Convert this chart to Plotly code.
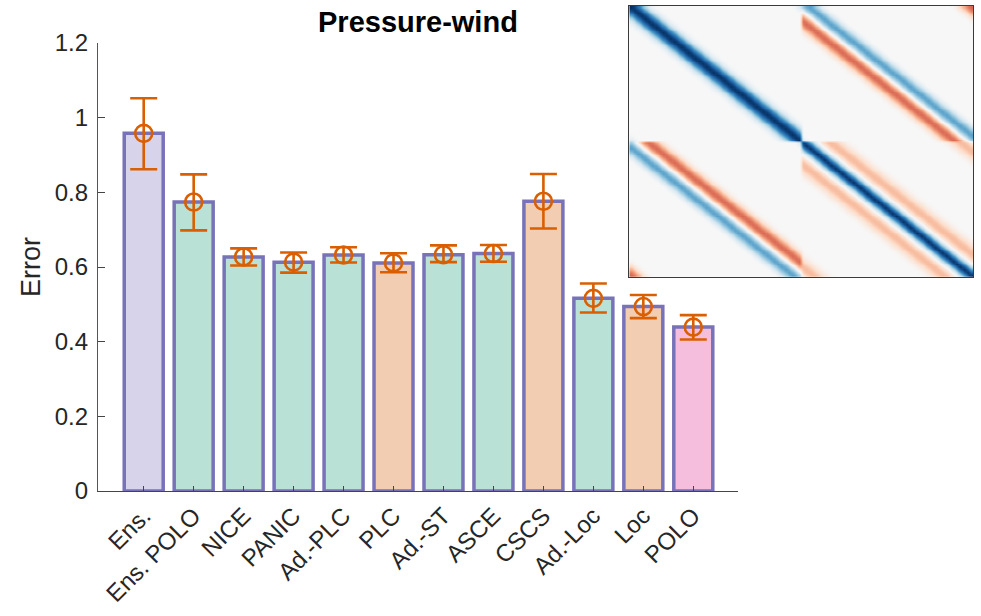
import numpy as np
import plotly.graph_objects as go

# ---------------- data ----------------
categories = ["Ens.", "Ens. POLO", "NICE", "PANIC", "Ad.-PLC", "PLC",
              "Ad.-ST", "ASCE", "CSCS", "Ad.-Loc", "Loc", "POLO"]
error_mean = [0.958, 0.774, 0.627, 0.613, 0.632, 0.611, 0.633, 0.636, 0.776, 0.516, 0.494, 0.439]
error_plus = [0.094, 0.074, 0.023, 0.026, 0.021, 0.026, 0.025, 0.023, 0.073, 0.040, 0.031, 0.032]
error_minus = [0.096, 0.076, 0.023, 0.028, 0.020, 0.025, 0.020, 0.022, 0.073, 0.038, 0.031, 0.033]
bar_groups = ["ens", "loc", "loc", "loc", "loc", "glob", "loc", "loc", "glob", "loc", "glob", "polo"]
group_colors = {"ens": "#d6d3ea", "loc": "#b9e1d6", "glob": "#f3cdb2", "polo": "#f5bedd"}
y_ticks = [0, 0.2, 0.4, 0.6, 0.8, 1.0, 1.2]
y_ticktext = ["0", "0.2", "0.4", "0.6", "0.8", "1", "1.2"]

# inset covariance: band profiles (value vs. index offset from the diagonal)
band_cells = 48
band_gap = 4
pp_profile = [1.0, 0.92, 0.75, 0.52, 0.30, 0.14, 0.05, 0.01]
ww_profile = [1.0, 0.85, 0.55, 0.25, 0.05, -0.10, -0.22, -0.30, -0.32, -0.28, -0.20, -0.12, -0.06, -0.02]
pw_offsets = list(range(-10, 8))
pw_profile = [-0.03, -0.10, -0.22, -0.38, -0.52, -0.58, -0.52, -0.36, -0.12,
              0.12, 0.35, 0.50, 0.55, 0.45, 0.30, 0.15, 0.05, 0.0]

# ---------------- build inset matrix ----------------
pw_map = dict(zip(pw_offsets, pw_profile))


def wrap(d, n, gap):
    if d > n // 2:
        d -= n + gap
    elif d < -(n // 2):
        d += n + gap
    return d


def sym(profile, d):
    d = abs(d)
    return profile[d] if d < len(profile) else 0.0


N = band_cells
M = np.zeros((2 * N, 2 * N))
for r in range(N):
    for c in range(N):
        d = wrap(c - r, N, band_gap)
        M[r, c] = sym(pp_profile, d)
        M[N + r, N + c] = sym(ww_profile, d)
        M[r, N + c] = pw_map.get(d, 0.0)
        M[N + r, c] = pw_map.get(-d, 0.0)

rdbu = ["#67001f", "#b2182b", "#d6604d", "#f4a582", "#fddbc7", "#f7f7f7",
        "#d1e5f0", "#92c5de", "#4393c3", "#2166ac", "#053061"]
colorscale = [[i / 10, c] for i, c in enumerate(rdbu)]

# ---------------- figure ----------------
W, H = 981, 616
ml, mr, mt, mb = 98, 8, 6, 125
pw_ = W - ml - mr
ph_ = H - mt - mb
x0_px, x1_px = 98, 738
ytop_px, ybot_px = 43, 491


def xd(px):
    return (px - ml) / pw_


def yd(py):
    return (H - mb - py) / ph_


xpos = list(range(len(categories)))
font_family = "Liberation Sans, Arial, Helvetica, sans-serif"
txt = "#262626"

fig = go.Figure()
fig.add_trace(go.Bar(
    x=xpos, y=error_mean, width=0.78,
    marker=dict(color=[group_colors[g] for g in bar_groups],
                line=dict(color="#7872b8", width=3.5)),
    hoverinfo="skip", showlegend=False,
))
fig.add_trace(go.Scatter(
    x=xpos, y=error_mean, mode="markers",
    marker=dict(symbol="circle-open", size=17, color="#d95f02",
                line=dict(width=2.6, color="#d95f02")),
    error_y=dict(type="data", symmetric=False, array=error_plus, arrayminus=error_minus,
                 color="#d95f02", thickness=2.6, width=13.5),
    hoverinfo="skip", showlegend=False, cliponaxis=False,
))
fig.add_trace(go.Heatmap(
    z=M, colorscale=colorscale, zmin=-1, zmax=1, showscale=False,
    zsmooth="best", xaxis="x2", yaxis="y2", hoverinfo="skip",
))

fig.update_layout(
    template="none",
    width=W, height=H,
    margin=dict(l=ml, r=mr, t=mt, b=mb, pad=0, autoexpand=False),
    paper_bgcolor="white", plot_bgcolor="white",
    font=dict(family=font_family, color=txt),
    bargap=0,
    xaxis=dict(
        domain=[0, xd(x1_px)], range=[-0.915, 11.895], automargin=False,
        tickmode="array", tickvals=xpos, ticktext=categories, tickangle=-45,
        tickfont=dict(size=24, color=txt),
        ticks="inside", ticklen=5, tickcolor="#444", tickwidth=1,
        showline=True, linecolor="#444", linewidth=1.3,
        showgrid=False, zeroline=False, fixedrange=True,
    ),
    yaxis=dict(
        domain=[0, yd(ytop_px)], range=[0, 1.2], automargin=False,
        tickmode="array", tickvals=y_ticks, ticktext=y_ticktext,
        tickfont=dict(size=24, color=txt),
        ticks="inside", ticklen=7, tickcolor="#444", tickwidth=1,
        showline=True, linecolor="#555", linewidth=1.2,
        showgrid=False, zeroline=False, fixedrange=True,
        ticklabelstandoff=4,
    ),
    xaxis2=dict(
        domain=[xd(629.3), 1.0], anchor="y2", automargin=False,
        range=[-0.5, 2 * N - 0.5], showticklabels=False, ticks="",
        showgrid=False, zeroline=False, fixedrange=True,
        showline=True, mirror=True, linecolor="#3a3a3a", linewidth=1.2,
    ),
    yaxis2=dict(
        domain=[yd(276.7), 1.0], anchor="x2", automargin=False,
        range=[2 * N - 0.5, -0.5], showticklabels=False, ticks="",
        showgrid=False, zeroline=False, fixedrange=True,
        showline=True, mirror=True, linecolor="#3a3a3a", linewidth=1.2,
    ),
    annotations=[
        dict(text="<b>Pressure-wind</b>", xref="x domain", yref="paper",
             x=0.5, y=yd(22), xanchor="center", yanchor="middle",
             showarrow=False, font=dict(size=29, color="black", family=font_family)),
        dict(text="Error", xref="paper", yref="paper",
             x=xd(31), y=yd(267), xanchor="center", yanchor="middle",
             textangle=-90, showarrow=False,
             font=dict(size=27, color=txt, family=font_family)),
    ],
)

fig.write_html("out.html",
               config={"displayModeBar": False, "staticPlot": True},
               post_script="document.body.style.margin='0px';document.body.style.overflow='hidden';")
